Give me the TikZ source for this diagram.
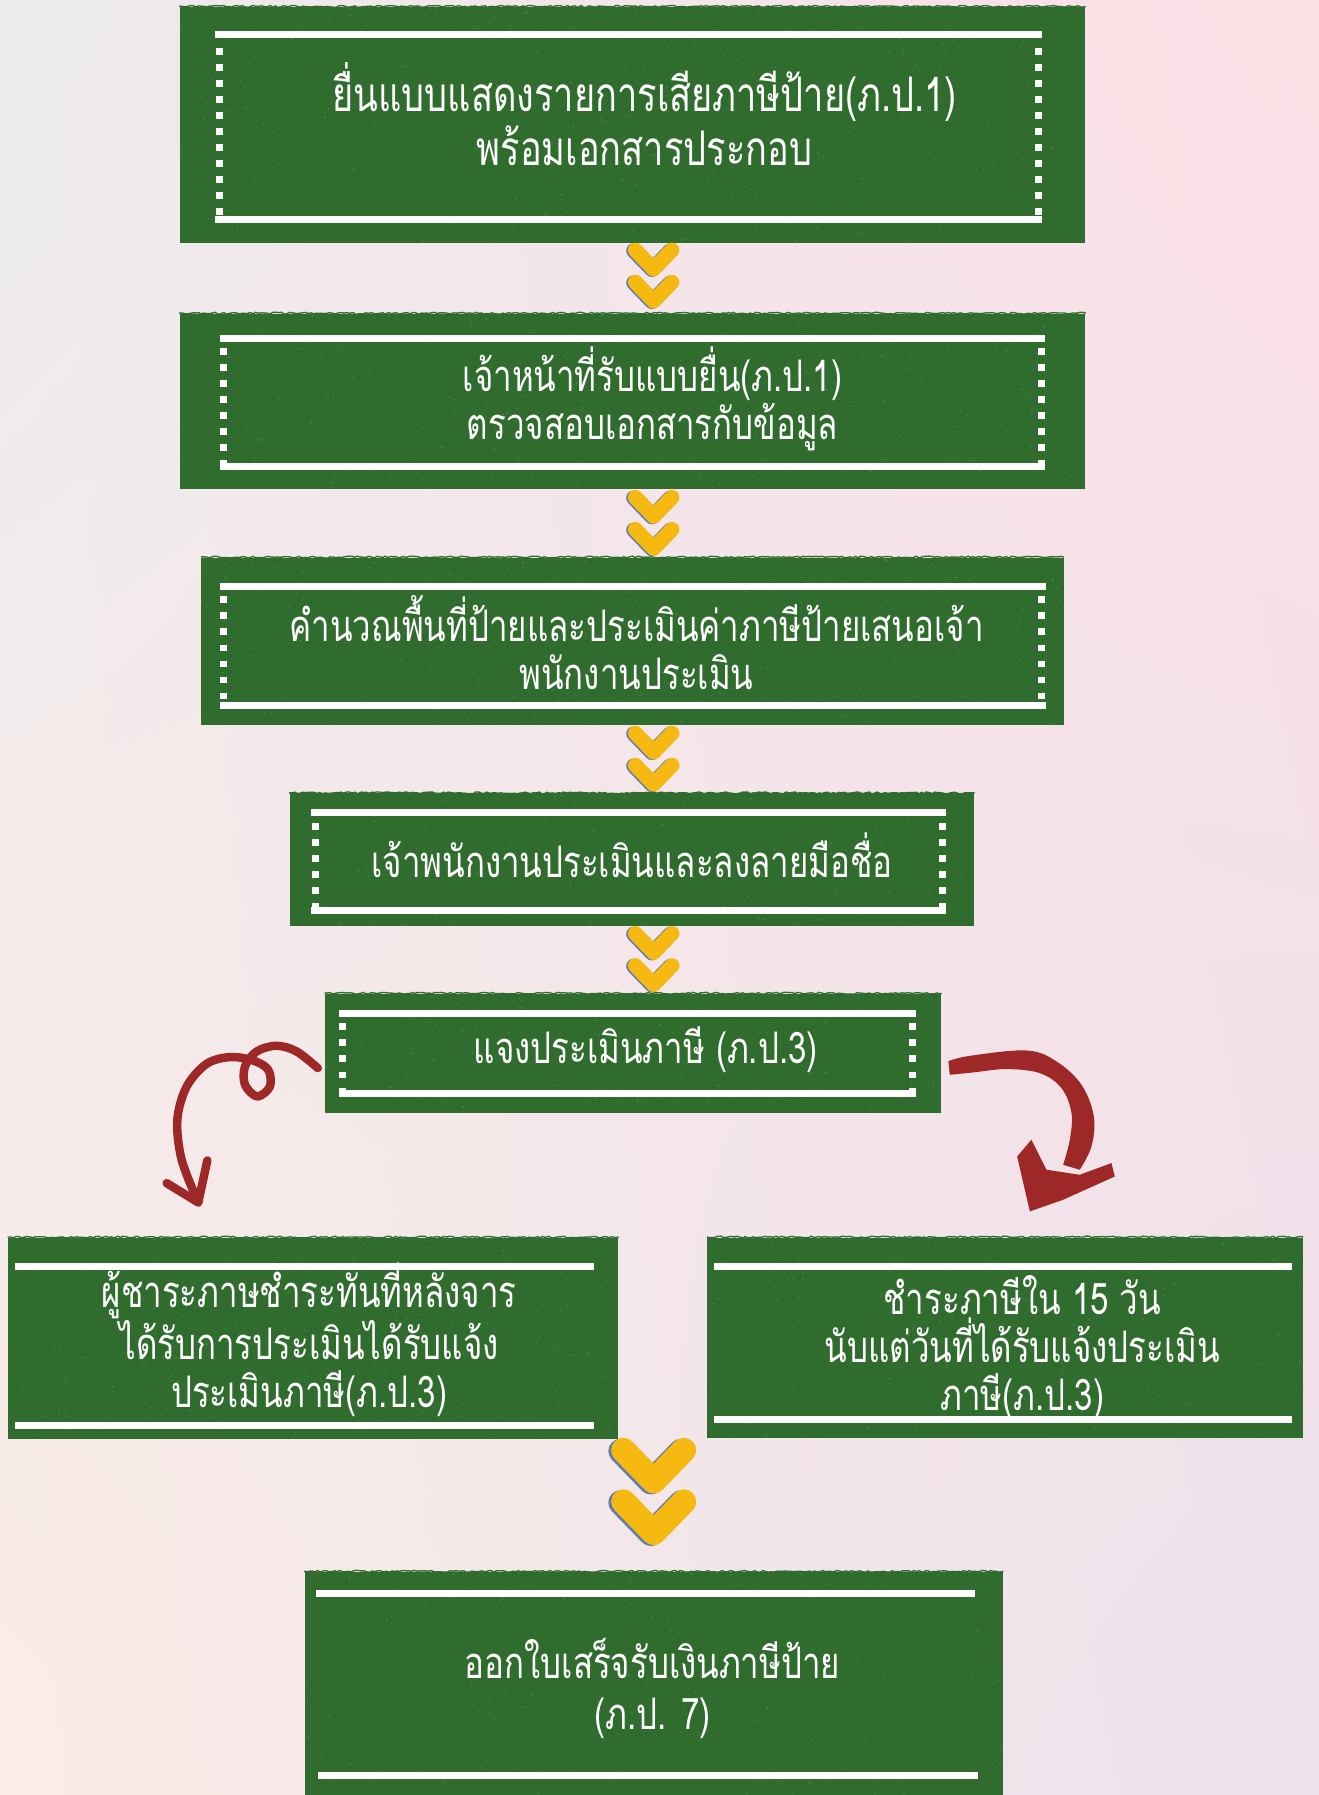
\documentclass[tikz,border=0pt]{standalone}
\usepackage{fontspec}
\newfontfamily\thai[Script=Thai,FakeStretch=0.76]{Loma}
\usetikzlibrary{fit,calc,shadings,decorations.pathmorphing}
\definecolor{gboxc}{RGB}{47,108,45}
\definecolor{speckc}{RGB}{88,140,82}
\definecolor{chevy}{RGB}{245,185,18}
\definecolor{chevb}{RGB}{95,125,175}
\definecolor{arrred}{RGB}{158,40,40}
\definecolor{bgUL}{RGB}{236,235,237}
\definecolor{bgUR}{RGB}{252,223,229}
\definecolor{bgLL}{RGB}{251,236,231}
\definecolor{bgLR}{RGB}{236,226,236}
\tikzset{
  gbox/.style={fill=gboxc, draw=none, inner sep=0pt, rectangle},
  wline/.style={white, line width=3pt},
  wdots/.style={white, line width=3pt, dash pattern=on 3pt off 4pt},
  btext/.style={text=white, align=center, inner sep=0pt, font=\thai\fontsize{19}{21}\selectfont},
  redline/.style={arrred, line width=3.7pt, line cap=round, line join=round},
  rough/.style={gboxc, line width=0.6pt, decorate, decoration={random steps, segment length=1.2pt, amplitude=0.4pt}},
}
\newcommand\chevron[3]{%
  \begin{scope}[shift={(#1,#2)}, scale=#3]
    \draw[chevb, line width=#3*6.5pt, line cap=round, line join=round] (-17.5,7) -- (-1.5,23.5) -- (14.5,7);
    \draw[chevy, line width=#3*6.5pt, line cap=round, line join=round] (-16,6.5) -- (0,23) -- (16,6.5);
  \end{scope}}
\newcommand\speckle[5]{%
  \foreach \i in {1,...,#5}{%
    \pgfmathsetmacro\sx{#1+rnd*(#3-#1)}%
    \pgfmathsetmacro\sy{#2+rnd*(#4-#2)}%
    \fill[speckc, opacity=0.55] (\sx,\sy) circle (0.45pt);}}
\begin{document}
\begin{tikzpicture}[x=0.5pt, y=-0.5pt]
\pgfmathsetseed{7}
\useasboundingbox (0,0) rectangle (1152,1568);
\shade[upper left=bgUL, upper right=bgUR, lower left=bgLL, lower right=bgLR] (0,0) rectangle (1152,1568);

% boxes
\node[gbox, fit={(157,6) (948,212)}] (b1) {};
\node[gbox, fit={(157,274) (948,427)}] (b2) {};
\node[gbox, fit={(176,487) (929,633)}] (b3) {};
\node[gbox, fit={(253,693) (851,809)}] (b4) {};
\node[gbox, fit={(284,868) (822,972)}] (b5) {};
\node[gbox, fit={(7,1081) (540,1257)}] (b6) {};
\node[gbox, fit={(618,1081) (1138,1256)}] (b7) {};
\node[gbox, fit={(266,1373) (876,1568)}] (b8) {};
\foreach \b in {b1,b2,b3,b4,b5,b6,b7,b8}{\draw[rough] (\b.north west) -- (\b.north east);}

% texture
\speckle{158}{7}{947}{211}{650}
\speckle{158}{275}{947}{426}{480}
\speckle{177}{488}{928}{632}{440}
\speckle{254}{694}{850}{808}{280}
\speckle{285}{869}{821}{971}{220}
\speckle{8}{1082}{539}{1256}{370}
\speckle{619}{1082}{1137}{1255}{360}
\speckle{267}{1374}{875}{1567}{470}

% frames
\draw[wline] (188,30) -- (910,30);
\draw[wline] (188,192) -- (910,192);
\draw[wdots] (191.5,42) -- (191.5,190);
\draw[wdots] (907,42) -- (907,190);

\draw[wline] (192,295.5) -- (913,295.5);
\draw[wline] (192,407.5) -- (913,407.5);
\draw[wdots] (195.5,304) -- (195.5,406);
\draw[wdots] (910,304) -- (910,406);

\draw[wline] (192,512) -- (914,512);
\draw[wline] (192,616) -- (914,616);
\draw[wdots] (195,521) -- (195,614);
\draw[wdots] (910,521) -- (910,614);

\draw[wline] (272,710) -- (826,710);
\draw[wline] (272,795) -- (826,795);
\draw[wdots] (275.5,719) -- (275.5,793);
\draw[wdots] (823,719) -- (823,793);

\draw[wline] (296,885.5) -- (800,885.5);
\draw[wline] (296,955) -- (800,955);
\draw[wdots] (299.5,894) -- (299.5,953);
\draw[wdots] (797,894) -- (797,953);

\draw[wline] (13.5,1106.5) -- (518.5,1106.5);
\draw[wline] (13.5,1245) -- (518.5,1245);

\draw[wline] (623.5,1106.5) -- (1128.5,1106.5);
\draw[wline] (623.5,1240) -- (1128.5,1240);

\draw[wline] (276,1392) -- (852,1392);
\draw[wline] (278,1551) -- (854,1551);

% texts
\node[btext, font=\thai\fontsize{20.8}{23.5}\selectfont] (b1t) at (563,100) {ยื่นแบบแสดงรายการเสียภาษีป้าย(ภ.ป.1)\\พร้อมเอกสารประกอบ};
\node[btext] (b2t) at (570,348) {เจ้าหน้าที่รับแบบยื่น(ภ.ป.1)\\ตรวจสอบเอกสารกับข้อมูล};
\node[btext] (b3t) at (556,561) {คำนวณพื้นที่ป้ายและประเมินค่าภาษีป้ายเสนอเจ้า\\พนักงานประเมิน};
\node[btext] (b4t) at (552,747) {เจ้าพนักงานประเมินและลงลายมือชื่อ};
\node[btext] (b5t) at (564,917) {แจงประเมินภาษี (ภ.ป.3)};
\node[btext, font=\thai\fontsize{19}{20.7}\selectfont] (b6t) at (270,1170) {ผู้ชาระภาษชำระทันที่หลังจาร\\ได้รับการประเมินได้รับแจ้ง\\ประเมินภาษี(ภ.ป.3)};
\node[btext] (b7t) at (893,1177) {ชำระภาษีใน 15 วัน\\นับแต่วันที่ได้รับแจ้งประเมิน\\ภาษี(ภ.ป.3)};
\node[btext, font=\thai\fontsize{19}{22}\selectfont] (b8t) at (570,1475) {ออกใบเสร็จรับเงินภาษีป้าย\\(ภ.ป. 7)};

% chevrons
\chevron{571}{212}{1}
\chevron{571}{240}{1}
\chevron{571}{428}{1}
\chevron{571}{456}{1}
\chevron{571}{634}{1}
\chevron{571}{662}{1}
\chevron{571}{809}{1}
\chevron{571}{837}{1}
\chevron{571}{1256}{1.65}
\chevron{571}{1301}{1.65}

% left curly arrow
\coordinate (la) at ($(b5.west)+(-6,13)$);
\draw[redline] plot[smooth, tension=0.55] coordinates {(la) (259.1,918.5) (241.6,913.5) (224.2,918.5) (214.0,931.6) (214.0,947.6) (224.7,957.8) (235.8,949.1) (234.3,934.5) (221.2,926.4) (200.9,923.4) (180.5,929.3) (163.1,949.1) (154.9,978.2) (158.7,1013.1) (173.2,1050.4)};
\coordinate (lt) at (173.2,1050.4);
\draw[redline] (145.6,1033.5) -- (lt) -- (181.1,1013.7);

% right brush arrow
\coordinate (ra) at ($(b5.east)+(6,7)$);
\fill[arrred] plot[smooth, tension=0.6] coordinates {(ra) (847.2,922.3) (896.7,917.6) (922.9,927.2) (944.7,947.6) (955.5,975.3) (953.4,1001.5) (943.2,1021.8)}
  -- plot[smooth, tension=0.6] coordinates {(928.7,1017.5) (934.5,995.6) (936.0,972.3) (927.2,950.5) (908.3,937.4) (879.2,933.9) (850.1,936.8) (829.7,938.9)} -- cycle;
\fill[arrred] (899.6,1058.2) -- (888.5,1010.2) -- (901.0,995.6) -- (914.1,1021.8) -- (943.2,1026.2) -- (970.9,1016.0) -- (973.8,1027.7) -- (928.7,1048.0) -- cycle;
\end{tikzpicture}
\end{document}
